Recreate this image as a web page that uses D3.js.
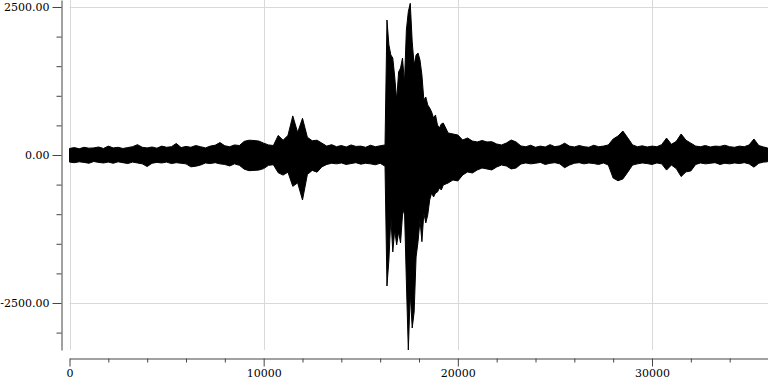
<!DOCTYPE html>
<html>
<head>
<meta charset="utf-8">
<script src="https://cdn.jsdelivr.net/npm/d3@7"></script>
<style>
  html, body { margin: 0; padding: 0; background: #fff; }
  svg { display: block; }
  .axis text { font-family: "DejaVu Serif", serif; font-size: 11px; fill: #000; }
  .axis path, .axis line { stroke: #444; }
</style>
</head>
<body>
<div id="chart"></div>
<script>
// sample index of each envelope point
const SAMPLES = [
  0, 250, 500, 750, 1000, 1250, 1500, 1750, 2000, 2250, 2500, 2750, 3000, 3250, 3500, 3750,
  4000, 4250, 4500, 4750, 5000, 5250, 5500, 5750, 6000, 6250, 6500, 6750, 7000, 7250, 7500, 7750,
  8000, 8250, 8500, 8750, 9000, 9250, 9500, 9750, 10000, 10250, 10500, 10750, 11000, 11250, 11500, 11750,
  12000, 12250, 12500, 12750, 13000, 13250, 13500, 13750, 14000, 14250, 14500, 14750, 15000, 15250, 15500, 15750,
  16000, 16250,
  16350, 16450, 16550, 16650, 16750, 16850, 16950, 17050, 17150, 17250, 17350, 17450, 17550, 17650, 17750,
  17850, 17950, 18050, 18150, 18250, 18350, 18450, 18550, 18650, 18750, 18850, 18950, 19050, 19150, 19250,
  19500, 19750, 20000, 20250, 20500, 20750, 21000, 21250, 21500, 21750, 22000, 22250, 22500, 22750, 23000, 23250,
  23500, 23750, 24000, 24250, 24500, 24750, 25000, 25250, 25500, 25750, 26000, 26250, 26500, 26750, 27000, 27250,
  27500, 27750, 28000, 28250, 28500, 28750, 29000, 29250, 29500, 29750, 30000, 30250, 30500, 30750, 31000, 31250,
  31500, 31750, 32000, 32250, 32500, 32750, 33000, 33250, 33500, 33750, 34000, 34250, 34500, 34750, 35000, 35250,
  35500, 35750, 35950
];

// upper envelope (max amplitude around each sample)
const UPPER = [
  110, 125, 105, 130, 115, 120, 135, 110, 150, 120, 130, 110, 125, 140, 175, 130,
  120, 135, 115, 150, 130, 140, 195, 125, 145, 130, 160, 140, 120, 150, 165, 210,
  155, 140, 170, 160, 230, 250, 245, 235, 200, 170, 160, 330, 250, 330, 660, 380,
  620, 300, 240, 250, 200, 150, 175, 140, 160, 135, 170, 145, 150, 130, 165, 140,
  155, 170,
  2280, 1858, 1689, 1638, 1317, 929, 1402, 1469, 1638, 1216, 2111, 2420, 2562, 1909, 1520,
  1689, 1723, 1605, 1351, 929, 980, 845, 794, 726, 625, 676, 507, 456, 524, 540,
  372, 355, 338, 253, 287, 236, 220, 245, 220, 225, 186, 169, 203, 253, 220, 152,
  140, 165, 130, 150, 135, 175, 140, 155, 200, 150, 135, 160, 140, 130, 165, 140,
  150, 170, 270, 320, 405, 290, 170, 140, 155, 135, 150, 140, 175, 285, 180, 230,
  355, 250, 200, 150, 140, 160, 135, 150, 145, 165, 140, 130, 150, 140, 170, 270,
  160, 135, 120
];

// lower envelope (min amplitude around each sample)
const LOWER = [
  -120, -130, -115, -125, -140, -110, -125, -135, -120, -140, -115, -130, -145, -120, -135, -150,
  -195, -140, -125, -135, -120, -145, -130, -140, -150, -200, -190, -170, -135, -145, -130, -150,
  -160, -185, -150, -175, -240, -265, -260, -255, -230, -175, -165, -300, -340, -290, -530, -470,
  -760, -330, -260, -290, -200, -160, -140, -150, -135, -160, -145, -130, -155, -140, -150, -165,
  -140, -190,
  -2213, -1773, -1047, -1638, -1267, -1520, -1300, -1486, -1013, -895, -2145, -3294, -2331, -2922, -2652,
  -1723, -1464, -1098, -1464, -980, -1148, -1013, -760, -642, -709, -642, -625, -557, -591, -507,
  -473, -422, -439, -338, -287, -304, -253, -220, -236, -253, -203, -169, -186, -236, -220, -152,
  -135, -150, -140, -125, -160, -140, -130, -150, -215, -170, -140, -130, -150, -135, -145, -160,
  -135, -170, -390, -435, -405, -290, -170, -150, -135, -145, -160, -135, -150, -255, -170, -230,
  -365, -285, -270, -160, -135, -150, -140, -130, -160, -140, -150, -135, -145, -130, -150, -205,
  -140, -120, -115
];

const X_DOMAIN = [0, 36000];
const Y_DOMAIN = [-3294, 2618];
const X_MAJOR = [0, 10000, 20000, 30000];
const X_MINOR = [2000, 4000, 6000, 8000, 12000, 14000, 16000, 18000, 22000, 24000, 26000, 28000, 32000, 34000];
const Y_MAJOR = [-2500, 0, 2500];
const Y_MINOR = [-3000, -2000, -1500, -1000, -500, 500, 1000, 1500, 2000];

const width = 768;
const height = 384;
const plot = { left: 69.5, right: 768.5, top: 0, bottom: 350 };
const yAxisX = 61.5;
const xAxisY = 358.5;

const svg = d3.select("#chart").append("svg")
  .attr("width", width)
  .attr("height", height);

const x = d3.scaleLinear().domain(X_DOMAIN).range([plot.left, plot.right]);
const y = d3.scaleLinear().domain(Y_DOMAIN).range([plot.bottom, plot.top]);

// grid
const grid = svg.append("g").attr("stroke", "#d9d9d9").attr("stroke-width", 1);
grid.selectAll("line.v")
  .data(X_MAJOR)
  .join("line")
  .attr("class", "v")
  .attr("x1", d => Math.round(x(d)) + 0.5).attr("x2", d => Math.round(x(d)) + 0.5)
  .attr("y1", plot.top).attr("y2", plot.bottom);
grid.selectAll("line.h")
  .data(Y_MAJOR)
  .join("line")
  .attr("class", "h")
  .attr("x1", plot.left).attr("x2", width)
  .attr("y1", d => Math.round(y(d)) + 0.5).attr("y2", d => Math.round(y(d)) + 0.5);

// waveform envelope
const points = SAMPLES.map((t, i) => ({ t, hi: UPPER[i], lo: LOWER[i] }));
const area = d3.area()
  .x(d => x(d.t))
  .y0(d => y(d.lo))
  .y1(d => y(d.hi));

svg.append("path")
  .datum(points)
  .attr("d", area)
  .attr("fill", "#000")
  .attr("stroke", "#000")
  .attr("stroke-width", 1);

// y axis
svg.append("g")
  .attr("class", "axis")
  .attr("transform", `translate(${yAxisX},0)`)
  .call(d3.axisLeft(y).tickValues(Y_MINOR).tickSize(5).tickFormat("").tickSizeOuter(0));

svg.append("g")
  .attr("class", "axis")
  .attr("transform", `translate(${yAxisX},0)`)
  .call(d3.axisLeft(y).tickValues(Y_MAJOR).tickSize(9).tickPadding(3).tickFormat(d => d.toFixed(2)).tickSizeOuter(0))
  .call(g => g.select(".domain").remove());

// x axis
svg.append("g")
  .attr("class", "axis")
  .attr("transform", `translate(0,${xAxisY})`)
  .call(d3.axisBottom(x).tickValues(X_MINOR).tickSize(4).tickFormat("").tickSizeOuter(0));

svg.append("g")
  .attr("class", "axis")
  .attr("transform", `translate(0,${xAxisY})`)
  .call(d3.axisBottom(x).tickValues(X_MAJOR).tickSize(8).tickPadding(3).tickFormat(d => String(d)).tickSizeOuter(0))
  .call(g => g.select(".domain").remove());
</script>
</body>
</html>
